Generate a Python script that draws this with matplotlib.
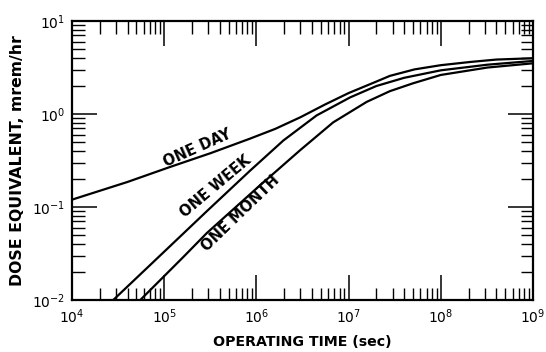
import numpy as np
import matplotlib
matplotlib.use("Agg")
import matplotlib.pyplot as plt
from matplotlib.ticker import LogLocator, NullFormatter

# values (operating time in sec, dose in mrem/hr)
day_t = [1e4, 4e4, 1.15e5, 3.2e5, 8.5e5, 1.6e6, 3.0e6, 5.5e6, 1e7, 1.95e7,
         2.8e7, 5.2e7, 1e8, 2.1e8, 4e8, 1e9]
day_d = [0.120, 0.186, 0.269, 0.380, 0.543, 0.692, 0.923, 1.26, 1.68, 2.21,
         2.57, 3.02, 3.35, 3.63, 3.85, 3.98]

week_t = [2.8e4, 1e5, 2.9e5, 8.5e5, 1.96e6, 4.5e6, 1.04e7, 2e7, 4e7, 1e8, 3.2e8, 1e9]
week_d = [0.010, 0.0331, 0.0902, 0.245, 0.519, 0.966, 1.51, 2.0, 2.45, 2.95, 3.39, 3.72]

month_t = [5.5e4, 1.6e5, 2.9e5, 1e6, 2.97e6, 6.8e6, 1.57e7, 2.8e7, 5e7, 1e8, 3.2e8, 1e9]
month_d = [0.010, 0.0288, 0.0525, 0.158, 0.407, 0.813, 1.35, 1.76, 2.14, 2.63, 3.16, 3.51]

labels = ["ONE DAY", "ONE WEEK", "ONE MONTH"]
label_xy = [(2.27e5, 0.43), (3.65e5, 0.168), (6.64e5, 0.086)]
label_rot = [24, 40, 44]

plt.rcParams['font.family'] = ['DejaVu Sans']

fig = plt.figure(figsize=(5.46, 3.52), dpi=100)
ax = fig.add_axes([0.1319, 0.1477, 0.8443, 0.7926])

for t, d in [(day_t, day_d), (week_t, week_d), (month_t, month_d)]:
    ax.plot(t, d, color='black', lw=1.6, solid_capstyle='round', solid_joinstyle='round')

for lab, (x, y), r in zip(labels, label_xy, label_rot):
    ax.text(x, y, lab, rotation=r, ha='center', va='center', fontsize=10.5,
            fontweight='bold', rotation_mode='anchor')

ax.set_xscale('log')
ax.set_yscale('log')
ax.set_xlim(1e4, 1e9)
ax.set_ylim(1e-2, 1e1)

ax.xaxis.set_major_locator(LogLocator(base=10, numticks=20))
ax.xaxis.set_minor_locator(LogLocator(base=10, subs=np.arange(2, 10), numticks=20))
ax.yaxis.set_minor_locator(LogLocator(base=10, subs=np.arange(2, 10), numticks=20))
ax.xaxis.set_minor_formatter(NullFormatter())
ax.yaxis.set_minor_formatter(NullFormatter())

ax.tick_params(which='both', direction='in', top=True, right=True, color='black')
ax.tick_params(which='major', length=18, width=1.1, labelsize=10, pad=5)
ax.tick_params(which='minor', length=9, width=1.0)
for s in ax.spines.values():
    s.set_linewidth(1.6)

ax.set_xlabel("OPERATING TIME (sec)", fontsize=10.2, fontweight='bold', labelpad=7)
ax.set_ylabel("DOSE EQUIVALENT, mrem/hr", fontsize=11.3, fontweight='bold', labelpad=5)

fig.savefig("out.png", dpi=100)
